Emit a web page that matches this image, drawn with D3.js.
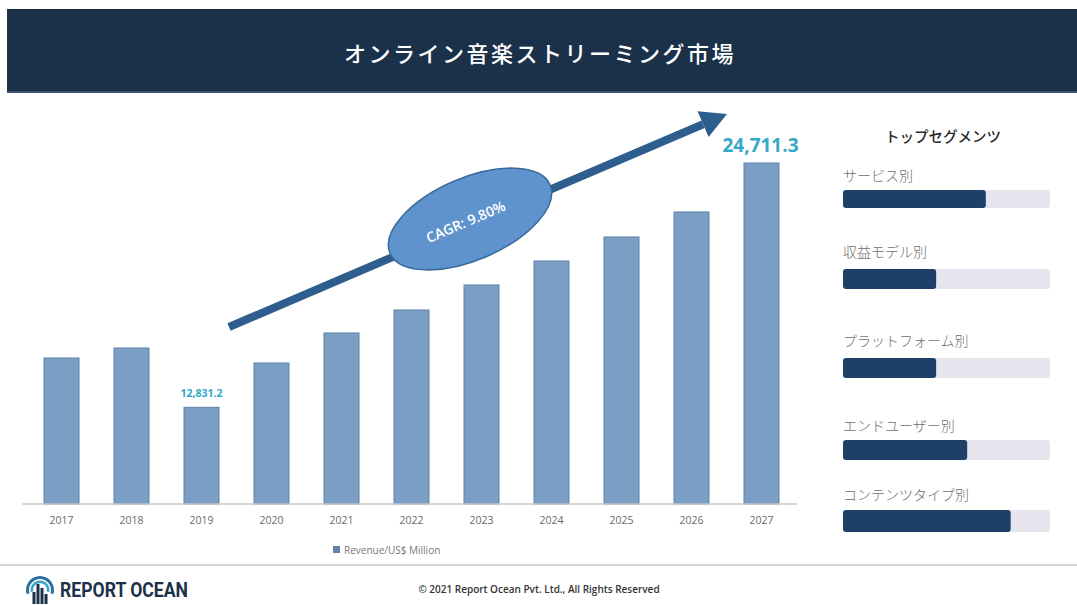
<!DOCTYPE html>
<html>
<head>
<meta charset="utf-8">
<script src="https://cdn.jsdelivr.net/npm/d3@7"></script>
<style>
  html, body { margin: 0; padding: 0; background: #ffffff; }
  svg { display: block; font-family: "Open Sans", "Noto Sans CJK JP", sans-serif; }
</style>
</head>
<body>
<svg id="chart" width="1077" height="605"></svg>
<script>
// ---- data ----
const title = "オンライン音楽ストリーミング市場";
const years = ["2017","2018","2019","2020","2021","2022","2023","2024","2025","2026","2027"];
const revenue = [15230, 15716, 12831.2, 14987, 16446, 17564, 18780, 19947, 21114, 22330, 24711.3];
const labelledYears = ["2019", "2027"];
const seriesName = "Revenue/US$ Million";
const cagrText = "CAGR: 9.80%";
const panelTitle = "トップセグメンツ";
const segments = ["サービス別", "収益モデル別", "プラットフォーム別", "エンドユーザー別", "コンテンツタイプ別"];
const segmentShares = [69, 45, 45, 60, 81];
const brand = "REPORT OCEAN";
const copyright = "© 2021 Report Ocean Pvt. Ltd., All Rights Reserved";

// ---- layout ----
const svg = d3.select("#chart");
const W = 1077, H = 605;
const jp = '"Noto Sans CJK JP", sans-serif';

// header band
svg.append("rect").attr("x", 7).attr("y", 9).attr("width", W - 7).attr("height", 83).attr("fill", "#1b3049");
svg.append("rect").attr("x", 7).attr("y", 91).attr("width", W - 7).attr("height", 2).attr("fill", "#3d5573");
svg.append("text").attr("x", 540).attr("y", 62).attr("text-anchor", "middle")
  .attr("fill", "#ffffff").attr("font-family", jp).attr("font-size", 22).attr("font-weight", 500)
  .attr("letter-spacing", 2.5).text(title);

// bar chart
const x = d3.scaleBand().domain(years).range([26.5, 796.5]).paddingInner(0.5).paddingOuter(0.25);
const y = d3.scaleLinear().domain([8130, 24711.3]).range([504, 163]);

const g = svg.append("g");
g.selectAll("rect.bar").data(years).join("rect").attr("class", "bar")
  .attr("x", d => x(d)).attr("width", x.bandwidth())
  .attr("y", (d, i) => y(revenue[i])).attr("height", (d, i) => 504 - y(revenue[i]))
  .attr("fill", "#7b9fc4").attr("stroke", "#5f82a8").attr("stroke-width", 1);

const xAxis = g.append("g").attr("transform", "translate(0,504)")
  .call(d3.axisBottom(x).tickSize(0).tickPadding(13));
xAxis.select(".domain").attr("stroke", "#c8c8c8").attr("stroke-width", 1.5)
  .attr("d", "M22,0H797");
xAxis.selectAll("text").attr("fill", "#6a6a6a").attr("font-size", 10.5)
  .attr("font-family", '"Liberation Sans Narrow", "Open Sans", sans-serif');

// value labels
labelledYears.forEach(yr => {
  const i = years.indexOf(yr);
  const big = yr === "2027";
  g.append("text").attr("x", x(yr) + x.bandwidth() / 2 + (big ? -1 : 0))
    .attr("y", y(revenue[i]) - (big ? 11 : 10))
    .attr("text-anchor", "middle").attr("fill", "#34a9c7").attr("font-weight", 700)
    .attr("font-size", big ? 19 : 10.5)
    .text(d3.format(",.1f")(revenue[i]));
});

// arrow
const ax0 = 229, ay0 = 327, ax1 = 727, ay1 = 114;
const ang = Math.atan2(ay1 - ay0, ax1 - ax0);
const headLen = 26, headW = 14;
const bx = ax1 - headLen * Math.cos(ang), by = ay1 - headLen * Math.sin(ang);
svg.append("line").attr("x1", ax0).attr("y1", ay0).attr("x2", bx).attr("y2", by)
  .attr("stroke", "#2d5e8e").attr("stroke-width", 8);
const px = -Math.sin(ang), py = Math.cos(ang);
svg.append("path")
  .attr("d", `M${ax1},${ay1}L${bx + px * headW},${by + py * headW}L${bx - px * headW},${by - py * headW}Z`)
  .attr("fill", "#2d5e8e");

// ellipse
const deg = ang * 180 / Math.PI;
const eg = svg.append("g").attr("transform", `translate(470,219) rotate(${deg})`);
eg.append("ellipse").attr("rx", 87).attr("ry", 41).attr("fill", "#5f93cd").attr("stroke", "#3a6a9c").attr("stroke-width", 1.5);
eg.append("text").attr("x", -5).attr("y", 6).attr("text-anchor", "middle").attr("fill", "#ffffff")
  .attr("font-size", 14).attr("font-weight", 600).attr("font-family", '"Open Sans", sans-serif').text(cagrText);

// legend
svg.append("rect").attr("x", 333).attr("y", 546).attr("width", 7).attr("height", 7).attr("fill", "#5f82a8");
svg.append("text").attr("x", 344).attr("y", 553.5).attr("fill", "#777777").attr("font-size", 10)
  .attr("font-family", '"Liberation Sans Narrow", "Open Sans", sans-serif').text(seriesName);

// right panel
svg.append("text").attr("x", 943).attr("y", 142).attr("text-anchor", "middle").attr("fill", "#2a2a2a")
  .attr("font-family", jp).attr("font-size", 14.5).attr("font-weight", 500).text(panelTitle);
const labelY = [181, 257, 346, 431, 500];
const barY = [190, 269, 358, 440, 510];
const barH = [18, 20, 20, 20, 22];
const sx = d3.scaleLinear().domain([0, 100]).range([0, 207]);
segments.forEach((s, i) => {
  svg.append("text").attr("x", 843).attr("y", labelY[i]).attr("fill", "#6e6e6e")
    .attr("font-family", jp).attr("font-size", 14).attr("font-weight", 300).text(s);
  svg.append("rect").attr("x", 843).attr("y", barY[i]).attr("width", sx(100)).attr("height", barH[i])
    .attr("rx", 3).attr("fill", "#e6e5ee");
  svg.append("rect").attr("x", 843).attr("y", barY[i]).attr("width", sx(segmentShares[i])).attr("height", barH[i])
    .attr("rx", 3).attr("fill", "#1e4068");
});

// footer
svg.append("rect").attr("x", 0).attr("y", 564).attr("width", W).attr("height", 2).attr("fill", "#d4d4d4");
const logo = svg.append("g").attr("transform", "translate(40,590)");
logo.append("path").attr("d", d3.arc()({innerRadius: 11, outerRadius: 14, startAngle: -Math.PI / 2 - 0.3, endAngle: Math.PI / 2 + 0.3}))
  .attr("fill", "#2a6f9e");
logo.append("path").attr("d", d3.arc()({innerRadius: 7, outerRadius: 9.5, startAngle: -Math.PI / 2 - 0.2, endAngle: Math.PI / 2 + 0.2}))
  .attr("fill", "#3aa3c4");
[[-6, 2], [-2, -6], [2, -2], [6, 4]].forEach(([bx2, top]) => {
  logo.append("rect").attr("x", bx2 - 1.5).attr("y", top).attr("width", 3).attr("height", 14 - top).attr("fill", "#1b3049");
});
svg.append("text").attr("x", 60).attr("y", 597).attr("fill", "#1b3049").attr("font-size", 20)
  .attr("font-weight", 700).attr("font-family", '"Roboto", "Liberation Sans Narrow", sans-serif')
  .attr("textLength", 128).attr("lengthAdjust", "spacingAndGlyphs").text(brand);
svg.append("text").attr("x", 539).attr("y", 593).attr("text-anchor", "middle").attr("fill", "#333333")
  .attr("font-size", 10).attr("font-weight", 600).attr("font-family", '"Open Sans", sans-serif').text(copyright);
</script>
</body>
</html>
